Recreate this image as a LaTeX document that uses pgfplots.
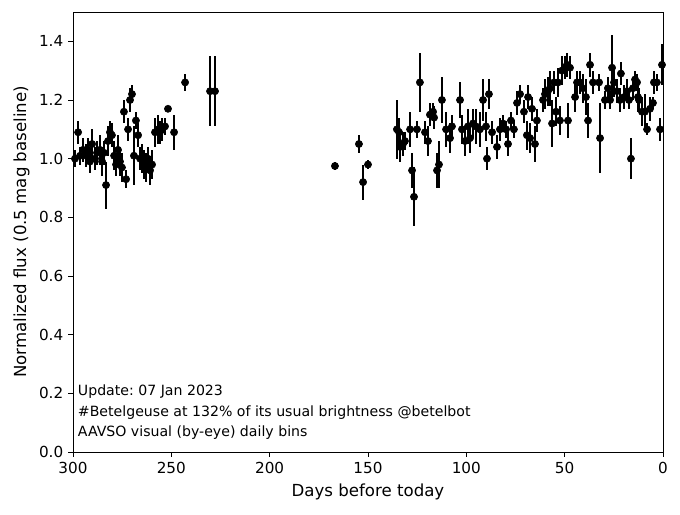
\documentclass[border=0pt]{standalone}
\usepackage{fontspec}
\setmainfont{DejaVu Sans}
\usepackage{pgfplots}
\usepackage{pgfplotstable}
\pgfplotsset{compat=1.18}
\frenchspacing
\pgfplotstableread{
x y e
299.0 1.00 0.03
297.4 1.09 0.04
296.4 1.01 0.03
294.9 1.03 0.04
293.4 1.01 0.04
292.4 1.03 0.04
291.4 0.99 0.04
290.3 1.05 0.05
288.8 1.00 0.04
287.8 1.02 0.04
286.3 1.03 0.05
285.2 0.99 0.05
284.2 1.02 0.04
283.2 0.91 0.08
282.2 1.06 0.05
281.2 1.09 0.04
280.2 1.08 0.04
279.1 1.01 0.05
278.1 0.98 0.04
277.1 1.03 0.05
276.1 0.99 0.05
275.1 0.97 0.05
274.1 1.16 0.04
273.0 0.93 0.03
272.0 1.10 0.04
271.0 1.20 0.04
270.0 1.22 0.03
269.0 1.01 0.10
268.0 1.13 0.03
266.9 1.08 0.04
265.9 1.00 0.04
264.9 1.00 0.05
263.9 0.98 0.05
262.9 0.97 0.05
261.9 1.00 0.04
260.8 0.96 0.05
259.8 0.98 0.05
258.3 1.09 0.05
256.8 1.10 0.05
255.8 1.09 0.04
254.7 1.10 0.04
253.2 1.11 0.03
251.7 1.17 0.01
248.6 1.09 0.06
243.0 1.26 0.03
230.3 1.23 0.12
227.8 1.23 0.12
166.8 0.975 0.015
154.6 1.05 0.03
152.5 0.92 0.06
150.0 0.98 0.015
135.3 1.10 0.10
134.2 1.09 0.05
133.7 1.04 0.05
132.2 1.05 0.04
131.2 1.06 0.03
128.6 1.10 0.06
127.6 0.96 0.06
126.6 0.87 0.10
125.1 1.10 0.03
123.6 1.26 0.10
121.0 1.09 0.04
119.5 1.06 0.05
118.5 1.15 0.04
116.9 1.16 0.03
116.4 1.14 0.04
114.9 0.96 0.06
113.9 0.98 0.08
112.4 1.20 0.08
110.3 1.10 0.06
108.3 1.07 0.05
107.3 1.11 0.04
103.2 1.20 0.06
102.2 1.10 0.05
100.7 1.06 0.05
99.2 1.11 0.06
98.1 1.07 0.05
96.6 1.12 0.05
95.1 1.11 0.06
93.1 1.10 0.06
91.5 1.20 0.07
90.0 1.11 0.05
89.5 1.00 0.04
88.5 1.22 0.05
86.9 1.09 0.04
84.4 1.04 0.04
82.9 1.10 0.04
81.4 1.12 0.03
79.8 1.10 0.03
78.8 1.05 0.04
77.3 1.13 0.03
75.8 1.10 0.03
74.2 1.19 0.04
72.7 1.22 0.03
70.7 1.16 0.04
69.2 1.08 0.05
68.6 1.21 0.04
67.6 1.07 0.05
66.6 1.17 0.04
65.1 1.05 0.06
64.1 1.13 0.04
61.0 1.20 0.04
60.0 1.22 0.05
58.5 1.23 0.05
57.5 1.24 0.06
56.4 1.12 0.08
55.4 1.26 0.04
54.4 1.16 0.05
53.4 1.26 0.05
52.4 1.13 0.05
51.4 1.30 0.05
49.8 1.31 0.04
48.8 1.32 0.04
48.3 1.13 0.06
47.3 1.31 0.04
44.7 1.21 0.05
43.7 1.26 0.04
42.2 1.26 0.04
40.7 1.24 0.05
39.2 1.21 0.06
38.1 1.13 0.06
37.1 1.32 0.04
35.6 1.26 0.04
32.5 1.26 0.03
32.0 1.07 0.12
29.5 1.20 0.03
28.0 1.24 0.04
26.9 1.20 0.03
25.9 1.31 0.11
24.9 1.26 0.05
23.4 1.23 0.04
21.9 1.20 0.04
21.4 1.29 0.04
19.8 1.21 0.04
18.3 1.23 0.04
17.3 1.20 0.03
16.3 1.00 0.07
15.3 1.24 0.04
14.2 1.27 0.03
13.2 1.26 0.03
12.7 1.21 0.05
12.2 1.20 0.04
10.7 1.16 0.05
9.2 1.16 0.06
8.1 1.10 0.02
6.6 1.17 0.04
5.1 1.19 0.02
4.6 1.26 0.04
3.1 1.26 0.03
1.5 1.10 0.04
0.5 1.32 0.07
}\datatable
\begin{document}
\begin{tikzpicture}
\begin{axis}[
  scale only axis,
  width=424.8bp, height=316.8bp,
  xmin=0, xmax=300, ymin=0, ymax=1.5,
  x dir=reverse,
  xtick={0,50,...,300},
  ytick={0,0.2,...,1.4},
  yticklabel style={/pgf/number format/.cd, fixed, fixed zerofill, precision=1},
  /pgf/number format/assume math mode=true,
  tick align=outside,
  tick pos=left,
  major tick length=3.5bp,
  every tick/.style={black, line width=0.6bp},
  axis line style={line width=0.6bp},
  tick label style={font=\fontsize{11}{13}\selectfont},
  label style={font=\fontsize{12}{14}\selectfont},
  xlabel={Days before today},
  ylabel={Normalized flux (0.5 mag baseline)},
  xlabel style={yshift=-1bp},
  ylabel style={yshift=0bp},
]
\addplot[only marks, mark=*, mark size=2.6bp, black,
  error bars/.cd, y dir=both, y explicit,
  error mark=none,
  error bar style={line width=1.5bp, black}]
  table[x=x, y=y, y error=e]{\datatable};
\node[anchor=south west, align=left, font=\fontsize{10.2}{15}\selectfont, inner sep=0pt]
  at (rel axis cs:0.008,0.027) {Update: 07 Jan 2023\\\#Betelgeuse at 132\% of its usual brightness @betelbot\\AAVSO visual (by-eye) daily bins};
\end{axis}
\path ([shift={(-52.56bp,-45.36bp)}]current axis.south west) rectangle ([shift={(12.24bp,8.64bp)}]current axis.north east);
\end{tikzpicture}
\end{document}
